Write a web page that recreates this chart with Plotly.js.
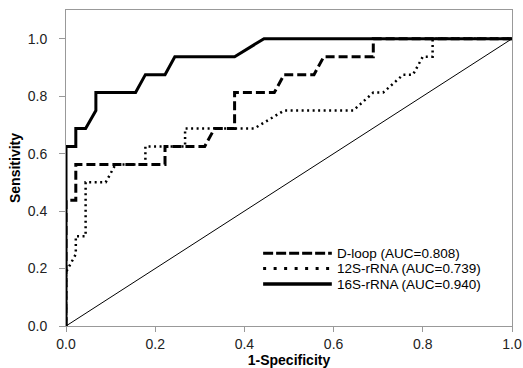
<!DOCTYPE html>
<html>
<head>
<meta charset="utf-8">
<script src="https://cdn.plot.ly/plotly-3.0.1.min.js"></script>
<style>html,body{margin:0;padding:0;background:#fff;}#chart{width:523px;height:368px;}</style>
</head>
<body>
<div id="chart"></div>
<script>
// Data
var dloopX = [0, 0, 0.022, 0.022, 0.222, 0.222, 0.311, 0.333, 0.378, 0.378, 0.467, 0.489, 0.556, 0.578, 0.689, 0.689, 1.0];
var dloopY = [0, 0.4375, 0.4375, 0.5625, 0.5625, 0.625, 0.625, 0.6875, 0.6875, 0.8125, 0.8125, 0.875, 0.875, 0.9375, 0.9375, 1.0, 1.0];

var s12X = [0, 0, 0.022, 0.022, 0.044, 0.044, 0.089, 0.111, 0.178, 0.178, 0.267, 0.267, 0.422, 0.489, 0.644, 0.689, 0.711, 0.756, 0.778, 0.800, 0.822, 0.822, 1.0];
var s12Y = [0, 0.1875, 0.25, 0.3125, 0.3125, 0.5, 0.5, 0.5625, 0.5625, 0.625, 0.625, 0.6875, 0.6875, 0.75, 0.75, 0.8125, 0.8125, 0.875, 0.875, 0.9375, 0.9375, 1.0, 1.0];

var s16X = [0, 0, 0.022, 0.022, 0.044, 0.067, 0.067, 0.156, 0.178, 0.222, 0.244, 0.378, 0.444, 1.0];
var s16Y = [0, 0.625, 0.625, 0.6875, 0.6875, 0.75, 0.8125, 0.8125, 0.875, 0.875, 0.9375, 0.9375, 1.0, 1.0];

var refX = [0, 1];
var refY = [0, 1];

var seriesNames = ["D-loop (AUC=0.808)", "12S-rRNA (AUC=0.739)", "16S-rRNA (AUC=0.940)"];
var xTicks = [0, 0.2, 0.4, 0.6, 0.8, 1.0];
var xTickText = ["0.0", "0.2", "0.4", "0.6", "0.8", "1.0"];
var yTicks = [0, 0.2, 0.4, 0.6, 0.8, 1.0];
var yTickText = ["0.0", "0.2", "0.4", "0.6", "0.8", "1.0"];

// styles (not data)
var plotDash = ["9px,4px", "2px,3.5px", "solid"];
var plotWidth = [3, 2.5, 3];
var legendDash = ["10px,3px", "3px,7.5px", "solid"];
var legendWidth = [3, 3, 3.5];
var legendRowsY = [0.2306, 0.1817, 0.1327];
var legendX0 = 0.442, legendX1 = 0.596, legendTextX = 0.606;

var FONT = "Liberation Sans, Arial, sans-serif";
var seriesX = [dloopX, s12X, s16X];
var seriesY = [dloopY, s12Y, s16Y];

var traces = [
  {x: refX, y: refY, mode: "lines", line: {color: "#000", width: 1}, showlegend: false, hoverinfo: "skip"}
];
var shapes = [];
var annotations = [];
for (var i = 0; i < seriesNames.length; i++) {
  traces.push({x: seriesX[i], y: seriesY[i], mode: "lines", name: seriesNames[i], showlegend: false,
    line: {color: "#000", width: plotWidth[i], dash: plotDash[i]}});
  shapes.push({type: "line", xref: "paper", yref: "paper", x0: legendX0, x1: legendX1,
    y0: legendRowsY[i], y1: legendRowsY[i], line: {color: "#000", width: legendWidth[i], dash: legendDash[i]}});
  annotations.push({xref: "paper", yref: "paper", x: legendTextX, y: legendRowsY[i],
    xanchor: "left", yanchor: "middle", showarrow: false, text: seriesNames[i], borderpad: 0,
    font: {family: FONT, size: 13.5, color: "#000"}});
}

var tickFont = {family: FONT, size: 14, color: "#222"};
var titleFont = {family: FONT, size: 14, color: "#000", weight: "bold"};

var layout = {
  width: 523, height: 368,
  margin: {l: 66, r: 11, t: 10, b: 42, pad: 0},
  paper_bgcolor: "#fff", plot_bgcolor: "#fff",
  showlegend: false,
  shapes: shapes,
  annotations: annotations,
  xaxis: {
    range: [0, 1.0], tickvals: xTicks, ticktext: xTickText,
    showgrid: false, zeroline: false,
    showline: true, linecolor: "#999", linewidth: 1, mirror: true,
    ticks: "outside", ticklen: 5, tickcolor: "#999",
    tickfont: tickFont,
    title: {text: "1-Specificity", font: titleFont, standoff: 4}
  },
  yaxis: {
    range: [0, 1.1], tickvals: yTicks, ticktext: yTickText,
    showgrid: false, zeroline: false,
    showline: true, linecolor: "#999", linewidth: 1, mirror: true,
    ticks: "outside", ticklen: 6, tickcolor: "#999", ticklabelstandoff: 9,
    tickfont: tickFont,
    title: {text: "Sensitivity", font: titleFont, standoff: 3}
  }
};

Plotly.newPlot("chart", traces, layout, {displayModeBar: false, staticPlot: true});
</script>
</body>
</html>
